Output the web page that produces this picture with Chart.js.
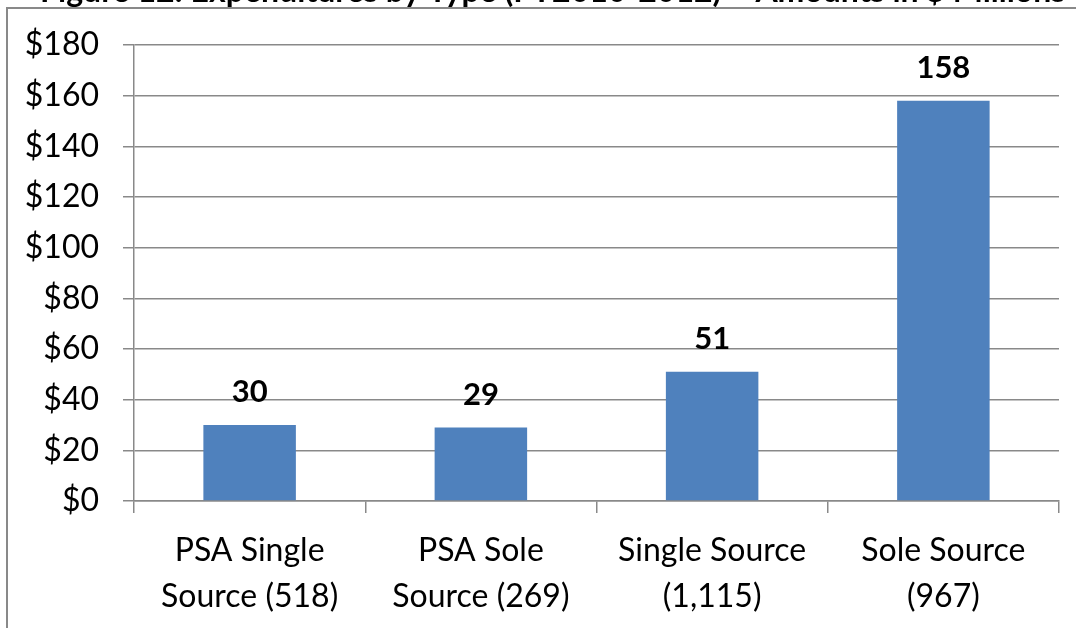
<!DOCTYPE html>
<html>
<head>
<meta charset="utf-8">
<script src="https://cdn.jsdelivr.net/npm/chart.js@4"></script>
<style>
  html, body { margin: 0; padding: 0; background: #ffffff; }
  #wrap { width: 1076px; height: 628px; position: relative; overflow: hidden; }
</style>
</head>
<body>
<div id="wrap"><canvas id="c" width="1076" height="628"></canvas></div>
<script>
// Expenditures by type, $ millions; counts of actions in parentheses
const categories = [
  ['PSA Single', 'Source (518)'],
  ['PSA Sole', 'Source (269)'],
  ['Single Source', '(1,115)'],
  ['Sole Source', '(967)']
];
const amounts = [30, 29, 51, 158];
const yTicks = [0, 20, 40, 60, 80, 100, 120, 140, 160, 180];
const titleText = 'Figure 12: Expenditures by Type (FY2010-2012) \u2013 Amounts in $ Millions';

const FONT = 'Lato, "Open Sans", "Noto Sans", sans-serif';
const GRID = '#898989';

// frame around the whole chart plus the heading that sits above it
const framePlugin = {
  id: 'frame',
  beforeDraw(chart) {
    const ctx = chart.ctx;
    ctx.save();
    ctx.fillStyle = '#ffffff';
    ctx.fillRect(0, 0, chart.width, chart.height);
    ctx.fillStyle = '#000000';
    ctx.font = 'bold 32px ' + FONT;
    ctx.textBaseline = 'alphabetic';
    ctx.textAlign = 'left';
    ctx.fillText(titleText, 40, 2);
    ctx.strokeStyle = GRID;
    ctx.lineWidth = 2;
    ctx.strokeRect(7, 8, chart.width + 20, chart.height + 20);
    ctx.restore();
  }
};

// value labels above each bar
const valueLabels = {
  id: 'valueLabels',
  afterDatasetsDraw(chart) {
    const ctx = chart.ctx;
    const meta = chart.getDatasetMeta(0);
    ctx.save();
    ctx.fillStyle = '#000000';
    ctx.font = 'bold 31px ' + FONT;
    ctx.textAlign = 'center';
    ctx.textBaseline = 'alphabetic';
    meta.data.forEach((bar, i) => {
      ctx.fillText(String(amounts[i]), bar.x, bar.y - 23);
    });
    ctx.restore();
  }
};

new Chart(document.getElementById('c'), {
  type: 'bar',
  data: {
    labels: categories,
    datasets: [{
      data: amounts,
      backgroundColor: '#4F81BD',
      borderWidth: 0,
      barPercentage: 0.4,
      categoryPercentage: 1.0
    }]
  },
  options: {
    responsive: false,
    animation: false,
    devicePixelRatio: 1,
    layout: { padding: { top: 45, right: 17, bottom: 0, left: 0 } },
    plugins: {
      legend: { display: false },
      title: { display: false },
      tooltip: { enabled: false }
    },
    scales: {
      x: {
        offset: true,
        grid: {
          offset: true,
          drawOnChartArea: false,
          drawTicks: true,
          tickLength: 12,
          color: GRID,
          lineWidth: 1.5
        },
        border: { display: true, color: GRID, width: 1.5 },
        ticks: {
          color: '#000000',
          padding: 14,
          maxRotation: 0,
          autoSkip: false,
          font: { family: FONT, size: 32, lineHeight: 1.45 }
        },
        afterFit(scale) { scale.height = 127; }
      },
      y: {
        min: 0,
        max: 180,
        afterBuildTicks(scale) { scale.ticks = yTicks.map(v => ({ value: v })); },
        grid: {
          color: GRID,
          lineWidth: 1.5,
          drawTicks: true,
          tickLength: 11
        },
        border: { display: true, color: GRID, width: 1.5 },
        ticks: {
          color: '#000000',
          padding: 24,
          font: { family: FONT, size: 32 },
          callback: (v) => '$' + v
        },
        afterFit(scale) { scale.width = 134; }
      }
    }
  },
  plugins: [framePlugin, valueLabels]
});
</script>
</body>
</html>
